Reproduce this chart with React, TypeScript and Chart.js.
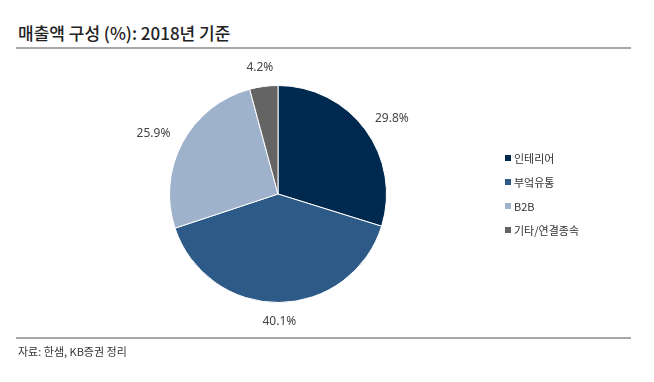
import React, { useEffect, useRef } from "react";
import { Chart, registerables } from "chart.js";

Chart.register(...registerables);

const title = "매출액 구성 (%): 2018년 기준";
const source = "자료: 한샘, KB증권 정리";
const categories = ["인테리어", "부엌유통", "B2B", "기타/연결종속"];
const shares = [29.8, 40.1, 25.9, 4.2];
const colors = ["#00294f", "#2d5a86", "#9fb2cb", "#646464"];

const FONT = "'Noto Sans CJK KR', 'Noto Sans', sans-serif";

const labelPlugin = {
  id: "outerLabels",
  afterDatasetsDraw(chart: any) {
    const ctx = chart.ctx;
    const meta = chart.getDatasetMeta(0);
    ctx.save();
    ctx.font = "12px 'Noto Sans', sans-serif";
    ctx.fillStyle = "#444444";
    ctx.textAlign = "center";
    ctx.textBaseline = "middle";
    meta.data.forEach((arc: any, i: number) => {
      const p = arc.getProps(["x", "y", "startAngle", "endAngle", "outerRadius"], true);
      const mid = (p.startAngle + p.endAngle) / 2;
      const txt = shares[i].toFixed(1) + "%";
      const w = ctx.measureText(txt).width;
      const D = p.outerRadius + 14;
      const c = Math.cos(mid);
      const s = Math.sin(mid);
      const px = p.x + D * c;
      const py = p.y + D * s;
      const cx = px + c * (w / 2 + 2);
      const cy = py + s * 5;
      ctx.fillText(txt, cx, cy);
    });
    ctx.restore();
  },
};

export default function App() {
  const ref = useRef<HTMLCanvasElement | null>(null);
  useEffect(() => {
    if (!ref.current) return;
    const chart = new Chart(ref.current, {
      type: "pie",
      data: {
        labels: categories,
        datasets: [
          {
            data: shares,
            backgroundColor: colors,
            borderColor: "#ffffff",
            borderWidth: 1,
            hoverOffset: 0,
          },
        ],
      },
      options: {
        responsive: false,
        animation: false,
        layout: { padding: { left: 169, right: 267, top: 85, bottom: 79 } },
        plugins: {
          legend: { display: false },
          tooltip: { enabled: false },
        },
      },
      plugins: [labelPlugin],
    });
    return () => chart.destroy();
  }, []);

  return (
    <div
      style={{
        position: "fixed",
        left: 0,
        top: 0,
        width: 654,
        height: 382,
        background: "#ffffff",
        fontFamily: FONT,
        overflow: "hidden",
      }}
    >
      <div
        style={{
          position: "absolute",
          left: 18,
          top: 21,
          fontSize: 17,
          fontWeight: 500,
          color: "#222",
          whiteSpace: "nowrap",
          lineHeight: "24px",
        }}
      >
        {title}
      </div>
      <div style={{ position: "absolute", left: 16, top: 47, width: 615, height: 1.5, background: "#a8a8a8" }} />
      <canvas ref={ref} width={654} height={382} style={{ position: "absolute", left: 0, top: 0 }} />
      {categories.map((c, i) => (
        <div
          key={c}
          style={{
            position: "absolute",
            left: 505,
            top: 150 + i * 24,
            height: 16,
            display: "flex",
            alignItems: "center",
            fontSize: 11,
            color: "#333",
            whiteSpace: "nowrap",
          }}
        >
          <span style={{ display: "inline-block", width: 6, height: 6, background: colors[i], marginRight: 3 }} />
          <span>{c}</span>
        </div>
      ))}
      <div style={{ position: "absolute", left: 16, top: 337, width: 615, height: 1.5, background: "#a8a8a8" }} />
      <div
        style={{
          position: "absolute",
          left: 18,
          top: 343,
          fontSize: 11,
          color: "#333",
          whiteSpace: "nowrap",
          lineHeight: "16px",
        }}
      >
        {source}
      </div>
    </div>
  );
}
